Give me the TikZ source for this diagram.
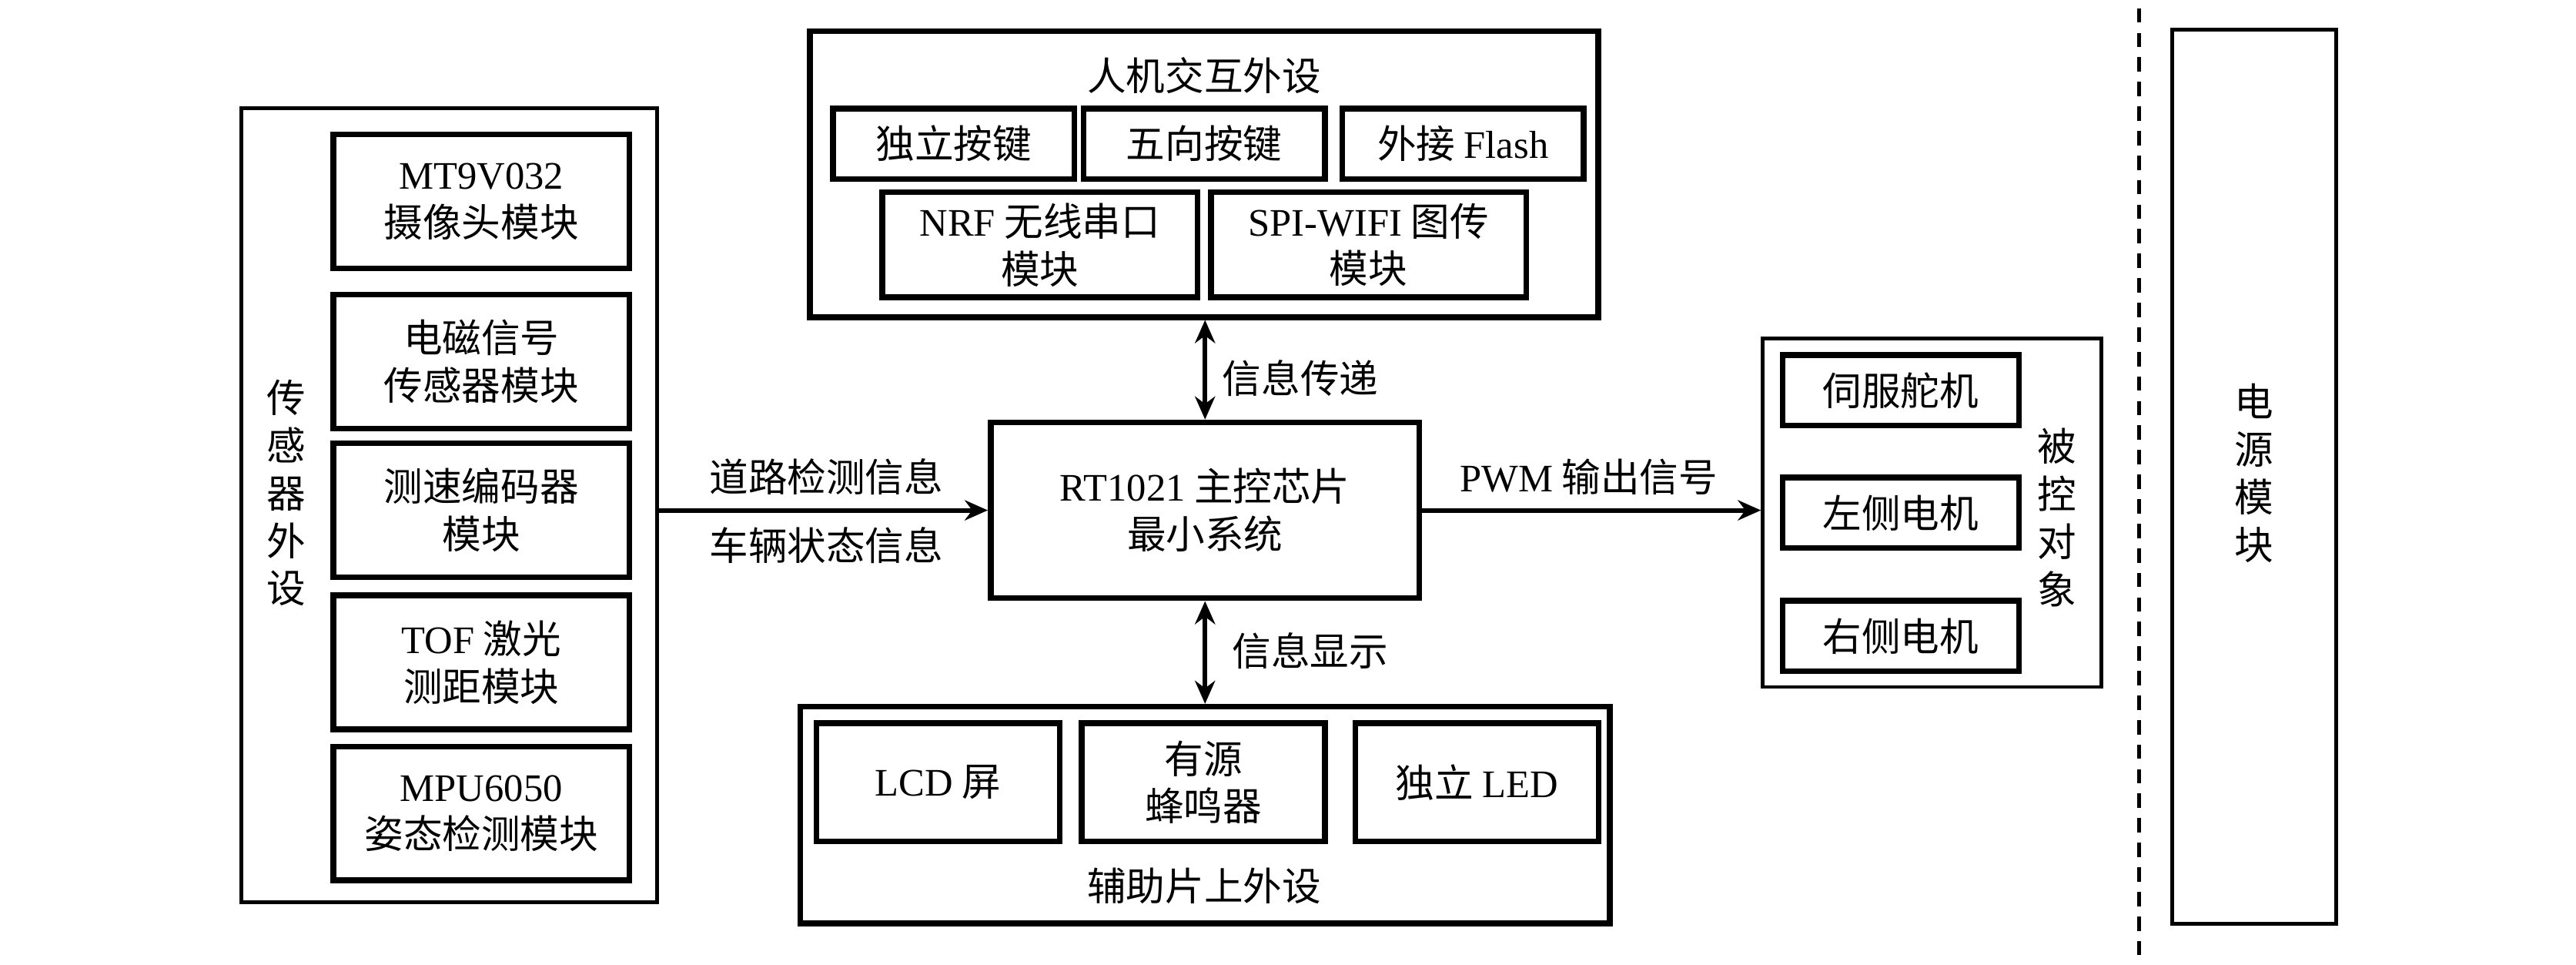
\documentclass[tikz,border=0pt]{standalone}
\usepackage{fontspec}
\setmainfont{Liberation Serif}
\newfontfamily\cjk{Noto Sans CJK SC}
\newfontfamily\latin{Liberation Serif}
\newcommand{\lt}[1]{{\latin #1}}
\usetikzlibrary{arrows.meta}

\begin{document}
\begin{tikzpicture}[x=0.02cm, y=-0.02cm,
  font=\cjk\fontsize{13.5}{16.5}\selectfont,
  caja/.style={draw, line width=2pt, align=center, inner sep=0pt},
  marco/.style={draw, line width=1.3pt, inner sep=0pt},
  flecha/.style={line width=1.6pt, -{Stealth[length=8pt,width=7pt]}},
  doble/.style={line width=1.6pt, {Stealth[length=8pt,width=7pt]}-{Stealth[length=8pt,width=7pt]}}]
  \useasboundingbox (0,0) rectangle (1568,587);
  %Sensores
  \node[marco, minimum width=5.06cm, minimum height=9.66cm] (sens) at (273.5,307.5) {};
  \node[align=center] (senst) at (174,300) {传\\感\\器\\外\\设};
  \node[caja, minimum width=3.6cm, minimum height=1.63cm] (cam) at (293,122.5) {\lt{MT9V032}\\摄像头模块};
  \node[caja, minimum width=3.6cm, minimum height=1.63cm] (em) at (293,220) {电磁信号\\传感器模块};
  \node[caja, minimum width=3.6cm, minimum height=1.63cm] (enc) at (293,310.5) {测速编码器\\模块};
  \node[caja, minimum width=3.6cm, minimum height=1.63cm] (tof) at (293,403) {\lt{TOF} 激光\\测距模块};
  \node[caja, minimum width=3.6cm, minimum height=1.63cm] (mpu) at (293,495) {\lt{MPU6050}\\姿态检测模块};

  %Control principal
  \node[caja, minimum width=5.22cm, minimum height=2.14cm] (main) at (733.5,310.5) {\lt{RT1021} 主控芯片\\最小系统};

  %Interaccion
  \node[caja, minimum width=9.6cm, minimum height=3.48cm] (top) at (733,106) {};
  \node (topt) at (733,46) {人机交互外设};
  \node[caja, minimum width=2.94cm, minimum height=0.86cm] (key1) at (580.5,87.5) {独立按键};
  \node[caja, minimum width=2.94cm, minimum height=0.86cm] (key2) at (733,87.5) {五向按键};
  \node[caja, minimum width=2.94cm, minimum height=0.86cm] (flash) at (890.5,87.5) {外接 \lt{Flash}};
  \node[caja, minimum width=3.84cm, minimum height=1.28cm] (nrf) at (633,149) {\lt{NRF} 无线串口\\模块};
  \node[caja, minimum width=3.84cm, minimum height=1.28cm] (wifi) at (833,149) {\lt{SPI-WIFI} 图传\\模块};

  %Auxiliares
  \node[caja, minimum width=9.86cm, minimum height=2.64cm] (bot) at (733.5,496) {};
  \node (bott) at (733,539) {辅助片上外设};
  \node[caja, minimum width=2.96cm, minimum height=1.44cm] (lcd) at (571,476) {\lt{LCD} 屏};
  \node[caja, minimum width=2.96cm, minimum height=1.44cm] (buzz) at (732.5,476) {有源\\蜂鸣器};
  \node[caja, minimum width=2.96cm, minimum height=1.44cm] (led) at (899,476) {独立 \lt{LED}};

  %Objetos controlados
  \node[marco, minimum width=4.12cm, minimum height=4.24cm] (ctrl) at (1176,312) {};
  \node[align=center] (ctrlt) at (1252,315) {被\\控\\对\\象};
  \node[caja, minimum width=2.88cm, minimum height=0.86cm] (servo) at (1157,237.5) {伺服舵机};
  \node[caja, minimum width=2.88cm, minimum height=0.86cm] (lmot) at (1157,312) {左侧电机};
  \node[caja, minimum width=2.88cm, minimum height=0.86cm] (rmot) at (1157,387) {右侧电机};

  %Fuente
  \draw[line width=1.3pt, dash pattern=on 5pt off 3.5pt] (1302,5) -- (1302,582);
  \node[marco, minimum width=2.0cm, minimum height=10.88cm] (pow) at (1372,290) {};
  \node[align=center] (powt) at (1372,288) {电\\源\\模\\块};

  %Flechas
  \draw[flecha] (sens.east |- main.west) -- (main.west);
  \node (road) at (503,290) {道路检测信息};
  \node (state) at (503,332) {车辆状态信息};
  \draw[doble] (main.north |- top.south) -- (main.north);
  \node (pass) at (791.5,230) {信息传递};
  \draw[doble] (main.south) -- (main.south |- bot.north);
  \node (show) at (797.5,396) {信息显示};
  \draw[flecha] (main.east) -- (main.east -| ctrl.west);
  \node (pwm) at (967,290) {\lt{PWM} 输出信号};
\end{tikzpicture}
\end{document}
